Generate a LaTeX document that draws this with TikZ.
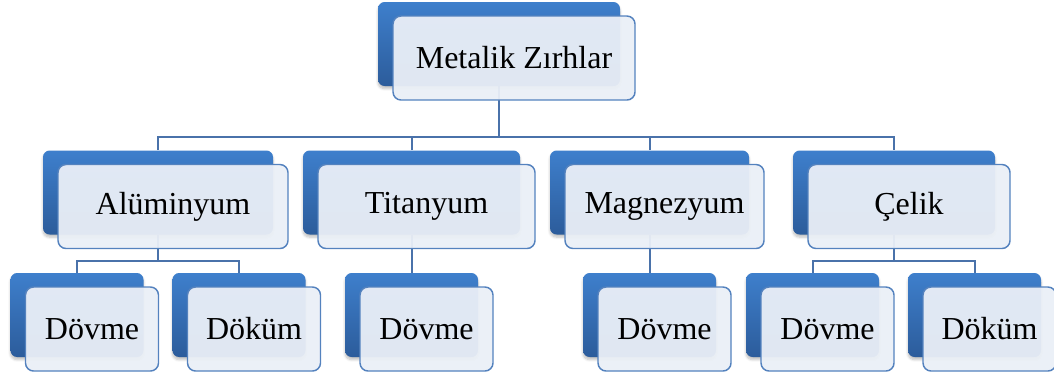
\documentclass[tikz,border=0pt]{standalone}
\usepackage{fontspec}
\setmainfont{Liberation Serif}
\newfontfamily\boxfont{Liberation Serif}
\usetikzlibrary{backgrounds,shadows.blur}
\definecolor{boxtop}{RGB}{62,127,204}
\definecolor{boxbot}{RGB}{44,92,155}
\definecolor{boxfill}{RGB}{234,239,247}
\definecolor{boxline}{RGB}{84,130,190}
\definecolor{linkc}{RGB}{74,114,170}
\tikzset{
  backbox/.style={rectangle, rounded corners=5pt, minimum height=63pt,
    minimum width=#1, inner sep=0pt, top color=boxtop, bottom color=boxbot,
    blur shadow={shadow xshift=0pt, shadow yshift=-2pt, shadow opacity=25,
      shadow blur steps=6}},
  frontbox/.style={rectangle, rounded corners=6pt, minimum height=63pt,
    minimum width=#1, inner sep=0pt, draw=boxline, line width=1.1pt,
    fill=boxfill, fill opacity=0.95, text opacity=1,
    font=\boxfont\fontsize{24}{28}\selectfont},
  link/.style={draw=linkc, line width=1.5pt}
}
\begin{document}
\begin{tikzpicture}[x=0.75pt, y=-0.75pt]
  \useasboundingbox (0,0) rectangle (1054,376);
  % root
  \node[backbox=181.5pt] (metB) at (499,44) {};
  \node[frontbox=181.5pt] (met) at ([shift={(15,14)}]metB) {Metalik Zırhlar};
  % second row
  \node[backbox=172.5pt] (alB) at (158,192.5) {};
  \node[frontbox=172.5pt] (al) at ([shift={(15,14)}]alB) {Alüminyum};
  \node[backbox=162.75pt] (tiB) at (411.5,192.5) {};
  \node[frontbox=162.75pt] (ti) at ([shift={(15,14)}]tiB) {Titanyum};
  \node[backbox=149.25pt] (mgB) at (649.5,192.5) {};
  \node[frontbox=149.25pt] (mg) at ([shift={(15,14)}]mgB) {Magnezyum};
  \node[backbox=151.5pt] (celB) at (894,192.5) {};
  \node[frontbox=151.5pt] (cel) at ([shift={(15,14)}]celB) {Çelik};
  % third row
  \node[backbox=99.75pt] (alDovB) at (77,315) {};
  \node[frontbox=99.75pt] (alDov) at ([shift={(15,14)}]alDovB) {Dövme};
  \node[backbox=99.75pt] (alDokB) at (239,315) {};
  \node[frontbox=99.75pt] (alDok) at ([shift={(15,14)}]alDokB) {Döküm};
  \node[backbox=99.75pt] (tiDovB) at (411.5,315) {};
  \node[frontbox=99.75pt] (tiDov) at ([shift={(15,14)}]tiDovB) {Dövme};
  \node[backbox=99.75pt] (mgDovB) at (649.5,315) {};
  \node[frontbox=99.75pt] (mgDov) at ([shift={(15,14)}]mgDovB) {Dövme};
  \node[backbox=99.75pt] (celDovB) at (812.5,315) {};
  \node[frontbox=99.75pt] (celDov) at ([shift={(15,14)}]celDovB) {Dövme};
  \node[backbox=99.75pt] (celDokB) at (974.5,315) {};
  \node[frontbox=99.75pt] (celDok) at ([shift={(15,14)}]celDokB) {Döküm};
  % connectors
  \begin{pgfonlayer}{background}
    \coordinate (bus) at (499,137);
    \coordinate (alBus) at (158,261);
    \coordinate (celBus) at (894,261);
    \draw[link] (metB.south) -- (bus);
    \draw[link] (alB.north) |- (bus) -| (celB.north);
    \draw[link] (tiB.north) -- (tiB.north |- bus);
    \draw[link] (mgB.north) -- (mgB.north |- bus);
    \draw[link] (alB.south) -- (alBus);
    \draw[link] (alDovB.north) |- (alBus) -| (alDokB.north);
    \draw[link] (tiB.south) -- (tiDovB.north);
    \draw[link] (mgB.south) -- (mgDovB.north);
    \draw[link] (celB.south) -- (celBus);
    \draw[link] (celDovB.north) |- (celBus) -| (celDokB.north);
  \end{pgfonlayer}
\end{tikzpicture}
\end{document}
